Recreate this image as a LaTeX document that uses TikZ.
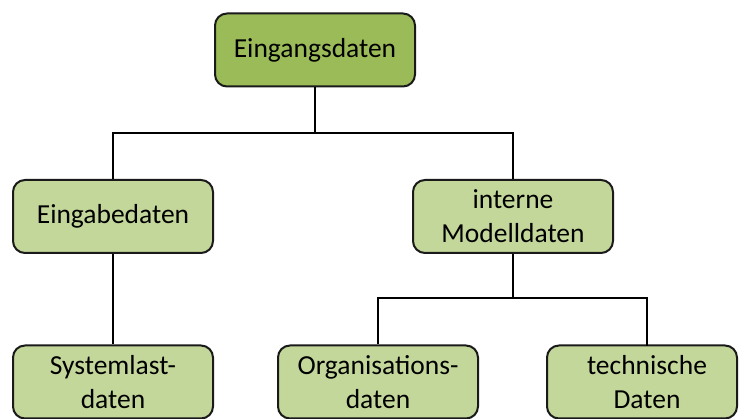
\documentclass[tikz,border=0pt]{standalone}
\usepackage{fontspec}
\setmainfont{Carlito}
\definecolor{topgreen}{HTML}{9BBB59}
\definecolor{lightgreen}{HTML}{C4D79B}
\definecolor{edge}{HTML}{1A1A1A}
\tikzset{
  boxbase/.style={draw=edge, line width=2pt, rounded corners=12pt, minimum height=73pt,
    inner sep=2pt, align=center, font=\fontsize{27.5}{34}\selectfont, text=black},
  topbox/.style={boxbase, fill=topgreen, minimum width=200pt},
  subbox/.style={boxbase, fill=lightgreen, minimum width=200pt},
  link/.style={draw=black, line width=2pt}
}
\begin{document}
\begin{tikzpicture}[x=1pt,y=-1pt]
\useasboundingbox (0,0) rectangle (739,419);
\node[topbox] (root) at (315,50) {Eingangsdaten};
\node[subbox] (eing) at (113,216.5) {Eingabedaten};
\node[subbox] (intern) at (513,216.5) {interne\\Modelldaten};
\node[subbox] (sys) at (113,382) {Systemlast-\\daten};
\node[subbox] (org) at (378,382) {Organisations-\\daten};
\node[subbox, minimum width=190pt] (tech) at (642,382) {\hspace*{10pt}technische\\\hspace*{10pt}Daten};
\coordinate (j1) at (315,133);
\coordinate (j2) at (513,298);
\coordinate (techtop) at (647,346);
\draw[link] (root.south) -- (j1);
\draw[link] (j1) -| (eing.north);
\draw[link] (j1) -| (intern.north);
\draw[link] (eing.south) -- (sys.north);
\draw[link] (intern.south) -- (j2);
\draw[link] (j2) -| (org.north);
\draw[link] (j2) -| (techtop);
\end{tikzpicture}
\end{document}
